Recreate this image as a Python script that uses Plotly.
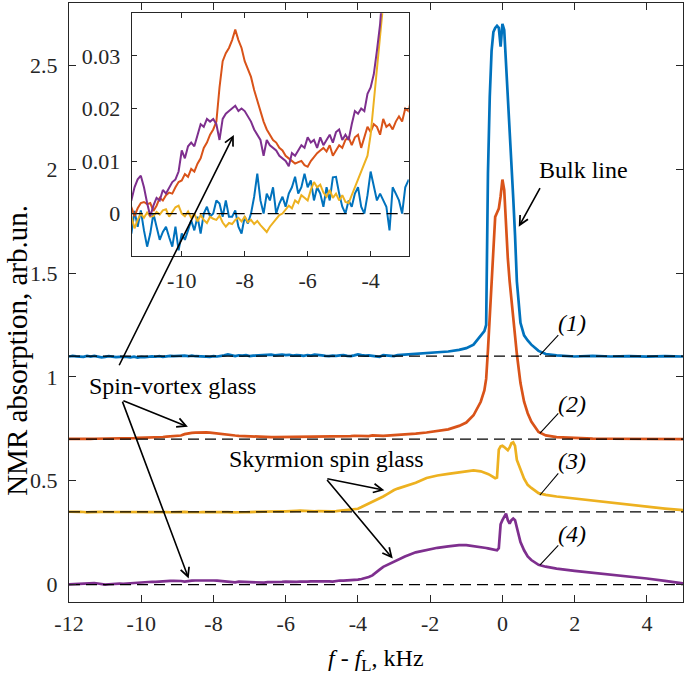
import plotly.graph_objects as go

# ---------------- data ----------------
# low-frequency part, sampled every 0.1 kHz (baseline-subtracted, in units of 1e-3)
X_LO = [-12.0, -11.9, -11.8, -11.7, -11.6, -11.5, -11.4, -11.3, -11.2, -11.1,
        -11.0, -10.9, -10.8, -10.7, -10.6, -10.5, -10.4, -10.3, -10.2, -10.1,
        -10.0, -9.9, -9.8, -9.7, -9.6, -9.5, -9.4, -9.3, -9.2, -9.1,
        -9.0, -8.9, -8.8, -8.7, -8.6, -8.5, -8.4, -8.3, -8.2, -8.1,
        -8.0, -7.9, -7.8, -7.7, -7.6, -7.5, -7.4, -7.3, -7.2, -7.1,
        -7.0, -6.9, -6.8, -6.7, -6.6, -6.5, -6.4, -6.3, -6.2, -6.1,
        -6.0, -5.9, -5.8, -5.7, -5.6, -5.5, -5.4, -5.3, -5.2, -5.1,
        -5.0, -4.9, -4.8, -4.7, -4.6, -4.5, -4.4, -4.3, -4.2, -4.1,
        -4.0, -3.9, -3.8, -3.7, -3.6, -3.5, -3.4, -3.3, -3.2, -3.1,
        -3.0, -2.9, -2.8]

BLUE_LO_MILLI = [-2.0, 1.0, -1.5, -3.0, -3.8, 0.5, -2.5, 0.6, -3.2, -6.3,
                 -3.8, 0.0, -2.5, -5.0, -3.5, -2.5, -4.5, -6.3, -2.5, -7.0,
                 -3.8, -5.0, -3.2, -1.3, -3.2, -0.6, -3.8, 0.0, 1.3, -0.6,
                 0.0, 2.5, 1.9, -0.6, 2.5, -0.6, -0.6, 0.6, -2.5, -3.8,
                 -0.6, -1.9, 0.0, 3.2, 7.6, 2.5, 0.0, 3.8, 2.5, 5.0,
                 0.0, 1.9, 3.2, 1.3, 3.8, 5.0, 7.0, 3.8, 5.0, 7.6,
                 5.0, 6.3, 2.5, 5.0, 3.8, 1.3, 5.0, 2.5, 6.9, 7.0,
                 3.8, 1.3, 0.0, 2.5, 1.3, 3.8, 5.0, 1.3, 0.0, 3.5,
                 8.0, 5.0, 2.5, 3.8, 2.5, 1.3, -3.2, 5.0, 3.8, 2.5,
                 0.0, 5.0, 6.3]

ORANGE_LO_MILLI = [1.0, 0.5, 1.5, 0.8, 1.2, -0.5, 1.0, 2.0, 2.2, 1.8,
                   2.0, 0.5, 1.5, 3.0, 2.5, 3.5, 4.0, 3.8, 5.0, 6.0,
                   6.3, 7.5, 7.0, 8.5, 8.0, 9.5, 10.5, 12.5, 13.5, 15.0,
                   16.0, 17.5, 24.0, 29.0, 30.5, 31.5, 33.0, 35.0, 33.0, 31.5,
                   29.0, 27.5, 26.0, 23.5, 21.5, 19.7, 17.5, 16.0, 15.0, 14.0,
                   13.5, 12.5, 12.0, 11.0, 10.5, 10.0, 9.5, 9.8, 10.0, 9.2,
                   8.9, 10.0, 10.8, 11.5, 12.0, 12.5, 11.8, 13.0, 11.0, 12.0,
                   13.0, 12.5, 14.0, 14.5, 13.0, 14.5, 15.0, 12.5, 14.5, 16.5,
                   15.5, 17.0, 16.5, 15.0, 18.0, 16.5, 17.0, 16.0, 17.5, 18.5,
                   17.5, 20.0, 19.5]

YELLOW_LO_MILLI = [0.5, -1.0, 0.8, -0.5, -0.6, -2.8, -1.2, 0.0, -0.8, 0.2,
                   -0.6, -0.5, 0.3, -0.2, 0.6, 0.8, -0.6, 0.2, 1.2, 1.5,
                   0.0, -0.5, 0.4, -0.8, 0.0, -1.5, -0.3, -1.2, -1.8, -0.6,
                   -1.0, -1.2, -0.4, -1.7, -2.5, -1.8, -2.0, -1.2, -0.8, -1.5,
                   -0.6, -1.6, -1.2, -2.0, -1.4, -2.2, -2.8, -3.5, -2.5, -1.8,
                   -1.0, -0.3, 0.0, 0.8, 1.5, 1.0, 2.5, 2.0, 3.5, 3.0,
                   2.5, 4.5, 6.0, 5.0, 5.5, 4.0, 3.2, 4.5, 3.0, 3.8,
                   2.5, 3.5, 2.2, 2.0, 3.5, 5.0, 6.5, 8.0, 9.5, 11.0,
                   15.0, 23.0, 31.0, 40.0, 48.0, 55.0, 64.0, 74.0, 84.0, 95.0,
                   105.0, 112.0, 118.0]

PURPLE_LO_MILLI = [1.0, 2.0, 0.5, 1.5, 2.5, 5.0, 6.5, 7.2, 5.0, 2.0,
                   -0.5, 1.5, 3.0, 2.5, 4.5, 3.8, 5.0, 6.0, 6.5, 8.0,
                   12.0, 10.5, 12.8, 13.5, 12.8, 15.0, 17.0, 16.5, 18.0, 17.5,
                   18.0, 17.0, 14.0, 18.0, 19.0, 19.5, 20.0, 20.5, 19.5, 20.0,
                   19.5, 18.5, 17.5, 16.0, 15.0, 14.0, 11.0, 14.0, 13.0, 12.5,
                   12.0, 11.0, 10.5, 10.0, 9.0, 11.5, 11.0, 12.0, 13.0, 12.5,
                   14.5, 13.5, 14.0, 12.5, 14.5, 13.0, 14.0, 15.0, 13.5, 15.5,
                   16.0, 14.0, 15.0, 14.0, 17.0, 19.5, 19.0, 20.0, 19.5, 22.8,
                   24.0, 26.5, 31.0, 36.0, 44.0, 56.0, 72.0, 85.0, 94.0, 103.0,
                   112.0, 120.0, 127.0]

# central / high-frequency part (baseline-subtracted, arb. units)
X_HI = [-2.7, -2.4, -2.1, -1.8, -1.5, -1.2, -1.0, -0.8, -0.6, -0.5,
        -0.45, -0.4, -0.35, -0.3, -0.25, -0.2, -0.15, -0.1, -0.05, 0.0,
        0.05, 0.1, 0.15, 0.2, 0.25, 0.3, 0.35, 0.4, 0.5, 0.6,
        0.7, 0.8, 1.0, 1.2, 1.5, 2.0, 2.5, 3.0, 3.5, 4.0,
        4.5, 5.0]

BLUE_HI = [0.006, 0.008, 0.012, 0.016, 0.022, 0.030, 0.038, 0.055, 0.095, 0.12,
           0.15, 0.88, 1.25, 1.47, 1.56, 1.58, 1.59, 1.58, 1.49, 1.60,
           1.57, 1.42, 1.26, 1.12, 0.95, 0.76, 0.58, 0.36, 0.16, 0.10,
           0.075, 0.055, 0.025, 0.010, 0.003, -0.002, 0.001, -0.002, 0.0, -0.003,
           0.0, -0.002]

ORANGE_HI = [0.022, 0.027, 0.032, 0.038, 0.047, 0.064, 0.080, 0.115, 0.18, 0.235,
             0.29, 0.43, 0.59, 0.77, 0.94, 1.07, 1.09, 1.11, 1.17, 1.25,
             1.20, 1.03, 0.87, 0.76, 0.67, 0.58, 0.49, 0.41, 0.27, 0.18,
             0.125, 0.085, 0.035, 0.018, 0.010, 0.005, 0.003, 0.002, 0.001, 0.001,
             0.0, 0.0]

YELLOW_HI = [0.122, 0.14, 0.163, 0.175, 0.183, 0.19, 0.196, 0.20, 0.195, 0.19,
             0.186, 0.182, 0.178, 0.172, 0.167, 0.162, 0.165, 0.30, 0.315, 0.318,
             0.312, 0.302, 0.297, 0.31, 0.33, 0.335, 0.318, 0.25, 0.20, 0.16,
             0.13, 0.115, 0.09, 0.082, 0.074, 0.064, 0.055, 0.046, 0.036, 0.026,
             0.016, 0.008]

PURPLE_HI = [0.135, 0.155, 0.167, 0.177, 0.184, 0.19, 0.19, 0.186, 0.181, 0.178,
             0.176, 0.174, 0.172, 0.17, 0.168, 0.166, 0.165, 0.175, 0.29, 0.31,
             0.33, 0.342, 0.31, 0.294, 0.31, 0.318, 0.31, 0.27, 0.205, 0.165,
             0.135, 0.118, 0.095, 0.086, 0.077, 0.066, 0.057, 0.049, 0.040, 0.029,
             0.018, 0.006]

SERIES_NAMES = ["(1)", "(2)", "(3)", "(4)"]
BASELINES = [1.1, 0.7, 0.35, 0.0]
LO_MILLI = [BLUE_LO_MILLI, ORANGE_LO_MILLI, YELLOW_LO_MILLI, PURPLE_LO_MILLI]
HI = [BLUE_HI, ORANGE_HI, YELLOW_HI, PURPLE_HI]
COLORS = ["#0072BD", "#D95319", "#EDB120", "#7E2F8E"]

X_TICKS = [-12, -10, -8, -6, -4, -2, 0, 2, 4]
X_TICK_LABELS = ["-12", "-10", "-8", "-6", "-4", "-2", "0", "2", "4"]
Y_TICKS = [0, 0.5, 1, 1.5, 2, 2.5]
Y_TICK_LABELS = ["0", "0.5", "1", "1.5", "2", "2.5"]
IX_TICKS = [-10, -8, -6, -4]
IX_TICK_LABELS = ["-10", "-8", "-6", "-4"]
IY_TICKS = [0, 0.01, 0.02, 0.03]
IY_TICK_LABELS = ["0", "0.01", "0.02", "0.03"]

MAIN_X_RANGE = [-12, 5]
MAIN_Y_RANGE = [-0.084, 2.80]
INSET_X_RANGE = [-11.59, -2.79]
INSET_Y_RANGE = [-0.0081, 0.0381]

FONT = "Liberation Serif"
AX_COLOR = "#262626"

fig = go.Figure()

x_all = X_LO + X_HI
for name, base, lo, hi, col in zip(SERIES_NAMES, BASELINES, LO_MILLI, HI, COLORS):
    y_sig = [v / 1000.0 for v in lo] + hi
    fig.add_trace(go.Scatter(x=x_all, y=[base + v for v in y_sig], mode="lines",
                             line=dict(color=col, width=2.7), name=name,
                             showlegend=False, xaxis="x", yaxis="y"))
for base in BASELINES:
    fig.add_trace(go.Scatter(x=MAIN_X_RANGE, y=[base, base], mode="lines",
                             line=dict(color="black", width=1.2, dash="11px,6px"),
                             showlegend=False, hoverinfo="skip", xaxis="x", yaxis="y"))

# inset
for name, lo, hi, col in zip(SERIES_NAMES, LO_MILLI, HI, COLORS):
    y_sig = [v / 1000.0 for v in lo] + hi
    fig.add_trace(go.Scatter(x=x_all, y=y_sig, mode="lines",
                             line=dict(color=col, width=2), name=name,
                             showlegend=False, xaxis="x2", yaxis="y2"))
fig.add_trace(go.Scatter(x=INSET_X_RANGE, y=[0, 0], mode="lines",
                         line=dict(color="black", width=1.2, dash="11px,6px"),
                         showlegend=False, hoverinfo="skip", xaxis="x2", yaxis="y2"))

axis_common = dict(showgrid=False, zeroline=False, showline=True, mirror="ticks",
                   linecolor=AX_COLOR, linewidth=1.2, ticks="inside",
                   tickcolor=AX_COLOR, tickwidth=1.2,
                   tickfont=dict(family=FONT, size=22, color=AX_COLOR))

fig.update_layout(
    width=685, height=677,
    margin=dict(l=69, r=2, t=3, b=75),
    paper_bgcolor="white", plot_bgcolor="white",
    showlegend=False,
    xaxis=dict(domain=[0, 1], range=MAIN_X_RANGE, tickvals=X_TICKS, ticktext=X_TICK_LABELS,
               ticklen=7, ticklabelstandoff=1, anchor="y", **axis_common),
    yaxis=dict(domain=[0, 1], range=MAIN_Y_RANGE, tickvals=Y_TICKS, ticktext=Y_TICK_LABELS,
               ticklen=7, ticklabelstandoff=6, anchor="x", **axis_common),
    xaxis2=dict(domain=[0.1021, 0.5533], range=INSET_X_RANGE, tickvals=IX_TICKS,
                ticktext=IX_TICK_LABELS, ticklen=5, ticklabelstandoff=4, anchor="y2", **axis_common),
    yaxis2=dict(domain=[0.5774, 0.9828], range=INSET_Y_RANGE, tickvals=IY_TICKS,
                ticktext=IY_TICK_LABELS, ticklen=5, ticklabelstandoff=6, anchor="x2", **axis_common),
)

# white background for the inset (drawn in the inset subplot, above main traces)
fig.add_shape(type="rect", xref="x2", yref="y2",
              x0=INSET_X_RANGE[0], x1=INSET_X_RANGE[1],
              y0=INSET_Y_RANGE[0], y1=INSET_Y_RANGE[1],
              fillcolor="white", line=dict(width=0), layer="below")

TXT = dict(family=FONT, size=24, color="black")

# axis titles
fig.add_annotation(xref="paper", yref="paper", x=0.5, y=-0.0974, showarrow=False,
                   text="<i>f</i> - <i>f</i><sub>L</sub>, kHz", font=TXT,
                   xanchor="center", yanchor="middle")
fig.add_annotation(xref="paper", yref="paper", x=-0.084, y=0.42, showarrow=False,
                   text="NMR absorption, arb.un.", textangle=-90,
                   font=dict(family=FONT, size=29, color="black"),
                   xanchor="center", yanchor="middle")

# labels
fig.add_annotation(x=2.24, y=1.997, text="Bulk line", showarrow=False, font=TXT)
fig.add_annotation(x=-9.14, y=0.956, text="Spin-vortex glass", showarrow=False, font=TXT)
fig.add_annotation(x=-4.875, y=0.604, text="Skyrmion spin glass", showarrow=False, font=TXT)

label_pos = [(1.92, 1.261), (1.92, 0.869), (1.92, 0.594), (1.92, 0.242)]
leader = [((1.547, 1.201), (1.036, 1.105)),
          ((1.547, 0.824), (1.036, 0.728)),
          ((1.547, 0.535), (1.036, 0.430)),
          ((1.547, 0.189), (1.036, 0.093))]
for name, (lx, ly), (t, h) in zip(SERIES_NAMES, label_pos, leader):
    fig.add_annotation(x=lx, y=ly, text="<i>" + name + "</i>", showarrow=False, font=TXT)
    fig.add_shape(type="line", xref="x", yref="y", x0=t[0], y0=t[1], x1=h[0], y1=h[1],
                  line=dict(color="black", width=1.1), layer="above")

arrows = [
    ((1.064, 1.916), (0.453, 1.723)),      # bulk line
    ((-10.631, 1.0487), (-7.436, 2.165)),   # spin-vortex -> inset
    ((-10.536, 0.888), (-8.708, 0.760)),    # spin-vortex -> (2)
    ((-10.536, 0.888), (-8.686, 0.029)),    # spin-vortex -> (4)
    ((-4.889, 0.511), (-3.269, 0.454)),     # skyrmion -> (3)
    ((-4.889, 0.511), (-3.036, 0.125)),     # skyrmion -> (4)
]
for t, h in arrows:
    fig.add_annotation(x=h[0], y=h[1], ax=t[0], ay=t[1], axref="x", ayref="y",
                       text="", showarrow=True, arrowhead=5, arrowsize=1.1,
                       arrowwidth=1.6, arrowcolor="black", standoff=0, startstandoff=0)

fig.write_html("out.html", config={"displayModeBar": False},
               post_script="document.body.style.margin='0';document.body.style.padding='0';")
